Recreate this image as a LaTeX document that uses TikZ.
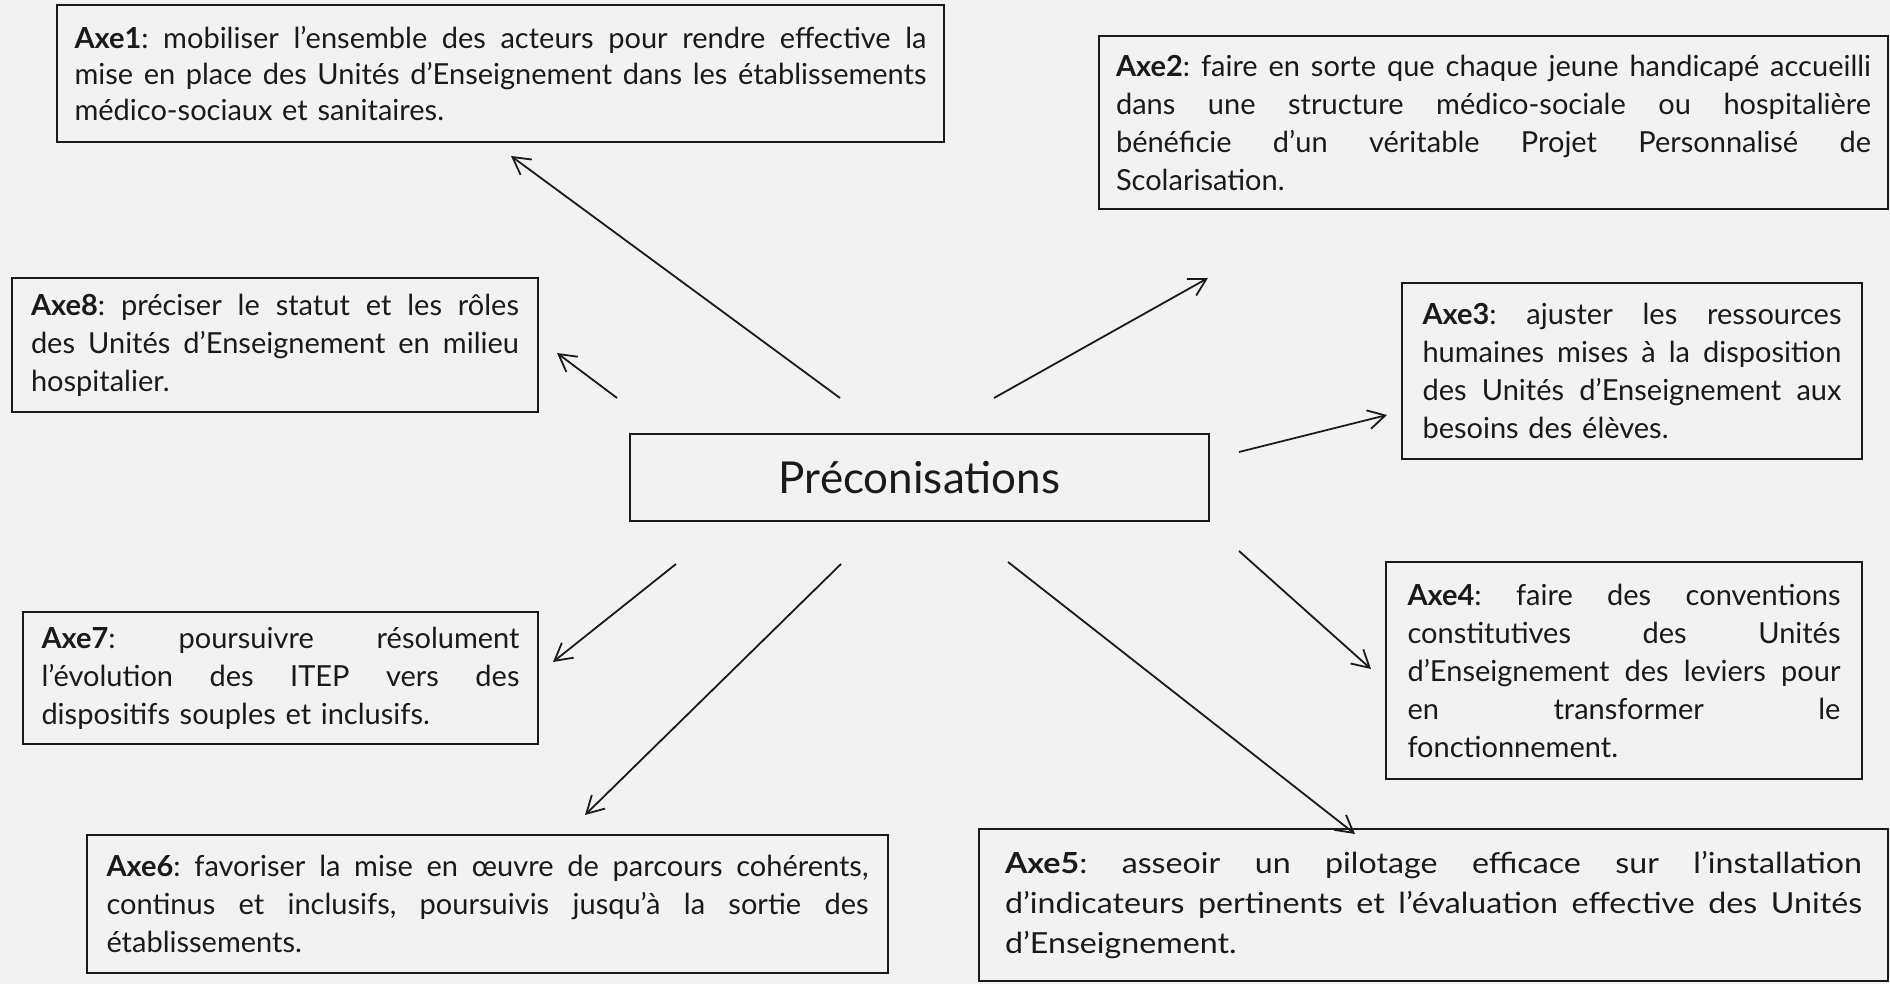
\documentclass[tikz,border=0pt]{standalone}
\usepackage{fontspec}
\setmainfont{Lato}
\newfontfamily\widelato[FakeStretch=1.11]{Lato}
\usetikzlibrary{arrows.meta,positioning}
\definecolor{pcBack}{HTML}{F2F2F2}
\definecolor{pcInk}{HTML}{1A1A1A}
% one justified line of a box
\newcommand{\jl}[1]{\leavevmode\hbox to \axew{\spaceskip=\fontdimen2\font plus 1fil\relax #1}\\}
\tikzset{
  axebox/.style={
    draw=pcInk, line width=1.6pt, fill=pcBack, inner xsep=0pt, inner ysep=0pt,
    align=left, text=pcInk, text width=#1, /utils/exec={\def\axew{#1}},
    font=\fontsize{29}{38}\selectfont\frenchspacing
  },
  hubbox/.style={draw=pcInk, line width=1.6pt, fill=pcBack, text=pcInk,
    font=\fontsize{44}{50}\selectfont},
  flow/.style={-{Straight Barb[length=17pt,width=19pt]}, line width=1.8pt, pcInk}
}
\begin{document}
\begin{tikzpicture}[x=1pt, y=-1pt]
  \fill[pcBack] (0,0) rectangle (1890,984);
  \useasboundingbox (0,0) rectangle (1890,984);
  % central node
  \node[hubbox, minimum width=579pt, minimum height=87pt] (prec) at (919.5,477.5) {Préconisations};
  % the eight axes
  \node[axebox=852pt, minimum width=887pt, minimum height=137pt,
    font=\fontsize{29}{36}\selectfont\frenchspacing] (axe1) at (500.5,73.5)
    {\jl{\textbf{Axe1}: mobiliser l’ensemble des acteurs pour rendre effective la}
     \jl{mise en place des Unités d’Enseignement dans les établissements}
     médico-sociaux et sanitaires.};
  \node[axebox=755pt, minimum width=789pt, minimum height=173pt] (axe2) at (1493.5,122.5)
    {\jl{\textbf{Axe2}: faire en sorte que chaque jeune handicapé accueilli}
     \jl{dans une structure médico-sociale ou hospitalière}
     \jl{bénéficie d’un véritable Projet Personnalisé de}
     Scolarisation.};
  \node[axebox=419pt, minimum width=460pt, minimum height=176pt] (axe3) at (1632,371)
    {\jl{\textbf{Axe3}: ajuster les ressources}
     \jl{humaines mises à la disposition}
     \jl{des Unités d’Enseignement aux}
     besoins des élèves.};
  \node[axebox=433pt, minimum width=476pt, minimum height=217pt] (axe4) at (1624,670.5)
    {\jl{\textbf{Axe4}: faire des conventions}
     \jl{constitutives des Unités}
     \jl{d’Enseignement des leviers pour}
     \jl{en transformer le}
     fonctionnement.};
  \node[axebox=857pt, minimum width=909pt, minimum height=152pt,
    font=\widelato\fontsize{29}{40}\selectfont\frenchspacing] (axe5) at (1433.5,905)
    {\jl{\textbf{Axe5}: asseoir un pilotage efficace sur l’installation}
     \jl{d’indicateurs pertinents et l’évaluation effective des Unités}
     d’Enseignement.};
  \node[axebox=762pt, minimum width=801pt, minimum height=138pt] (axe6) at (487.5,904)
    {\jl{\textbf{Axe6}: favoriser la mise en œuvre de parcours cohérents,}
     \jl{continus et inclusifs, poursuivis jusqu’à la sortie des}
     établissements.};
  \node[axebox=478pt, minimum width=515pt, minimum height=132pt] (axe7) at (280.5,678)
    {\jl{\textbf{Axe7}: poursuivre résolument}
     \jl{l’évolution des ITEP vers des}
     dispositifs souples et inclusifs.};
  \node[axebox=488pt, minimum width=526pt, minimum height=134pt] (axe8) at (275,345)
    {\jl{\textbf{Axe8}: préciser le statut et les rôles}
     \jl{des Unités d’Enseignement en milieu}
     hospitalier.};
  % arrow ends, free of the boxes
  \coordinate (s1) at (840,398);  \coordinate (e1) at (511,156);
  \coordinate (s2) at (994,398);  \coordinate (e2) at (1208,278);
  \coordinate (s3) at (1239,452); \coordinate (e3) at (1387,415);
  \coordinate (s4) at (1239,551); \coordinate (e4) at (1371,669);
  \coordinate (s5) at (1008,562); \coordinate (e5) at (1355,834);
  \coordinate (s6) at (841,564);  \coordinate (e6) at (585,815);
  \coordinate (s7) at (676,564);  \coordinate (e7) at (553,662);
  \coordinate (s8) at (617,398);  \coordinate (e8) at (557,353);
  \foreach \i in {1,...,8}
    \draw[flow] (s\i) -- (e\i);
\end{tikzpicture}
\end{document}
